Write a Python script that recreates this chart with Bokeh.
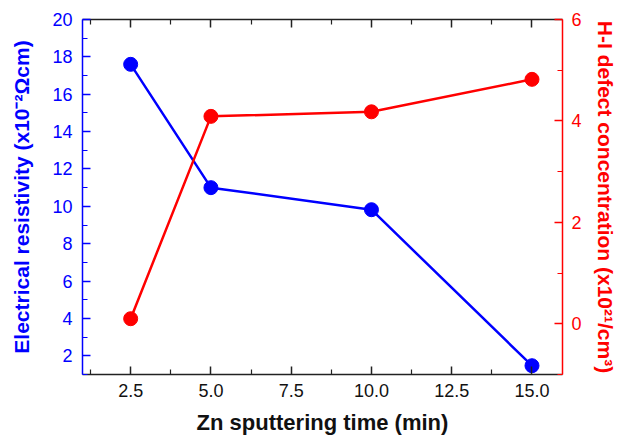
from bokeh.plotting import figure
from bokeh.models import Range1d, LinearAxis, FixedTicker, ColumnDataSource, NumeralTickFormatter
from bokeh.embed import file_html
from bokeh.resources import INLINE

time_min = [2.5, 5.0, 10.0, 15.0]
resistivity = [17.6, 11.0, 9.82, 1.47]
hi_defect = [0.1, 4.09, 4.18, 4.82]

x_ticks = [2.5, 5.0, 7.5, 10.0, 12.5, 15.0]
x_minor = [1.25, 3.75, 6.25, 8.75, 11.25, 13.75]
left_ticks = [2, 4, 6, 8, 10, 12, 14, 16, 18, 20]
left_minor = [1, 3, 5, 7, 9, 11, 13, 15, 17, 19]
right_ticks = [0, 2, 4, 6]
right_minor = [-1, 1, 3, 5]

BLUE = "#0000ff"
RED = "#ff0000"
FONT = "Liberation Sans"

p = figure(width=622, height=438, output_backend="svg", toolbar_location=None,
           x_range=Range1d(1.0, 15.95), y_range=Range1d(1.0, 20.0),
           x_axis_location=None, y_axis_location=None,
           min_border_left=82, min_border_right=60, min_border_top=19, min_border_bottom=64)
p.extra_y_ranges = {"right": Range1d(-1.0, 6.0)}
p.grid.visible = False
p.outline_line_color = None
p.background_fill_color = "white"
p.border_fill_color = "white"


def style(ax, color, label_color):
    ax.axis_line_color = color
    ax.axis_line_width = 1.5
    ax.major_tick_line_color = color
    ax.minor_tick_line_color = color
    ax.major_tick_line_width = 1.5
    ax.minor_tick_line_width = 1.2
    ax.major_tick_in = 8
    ax.major_tick_out = 0
    ax.minor_tick_in = 5
    ax.minor_tick_out = 0
    ax.major_label_text_font = FONT
    ax.major_label_text_font_size = "18px"
    ax.major_label_text_color = label_color
    ax.axis_label_text_font = FONT
    ax.axis_label_text_font_style = "bold"
    ax.axis_label_text_font_size = "21px"
    ax.axis_label_text_color = label_color


bottom = LinearAxis(ticker=FixedTicker(ticks=x_ticks, minor_ticks=x_minor),
                    formatter=NumeralTickFormatter(format="0.0"),
                    axis_label="Zn sputtering time (min)")
style(bottom, "#222222", "#111111")
bottom.axis_label_text_font_size = "22px"
bottom.major_label_standoff = 9
bottom.axis_label_standoff = 10
p.add_layout(bottom, "below")

top = LinearAxis(ticker=FixedTicker(ticks=x_ticks, minor_ticks=x_minor))
style(top, "#222222", "#111111")
top.major_label_overrides = {t: "" for t in x_ticks}
top.major_label_standoff = 0
p.add_layout(top, "above")

left = LinearAxis(ticker=FixedTicker(ticks=left_ticks, minor_ticks=left_minor),
                  axis_label="Electrical resistivity (x10\u207b\u00b2\u03a9cm)")
style(left, BLUE, BLUE)
left.major_label_standoff = 10
left.axis_label_standoff = 16
p.add_layout(left, "left")

right = LinearAxis(y_range_name="right",
                   ticker=FixedTicker(ticks=right_ticks, minor_ticks=right_minor),
                   axis_label="H-I defect concentration (x10\u00b2\u00b9/cm\u00b3)")
style(right, RED, RED)
right.major_label_standoff = 9
right.axis_label_standoff = 9
p.add_layout(right, "right")

src = ColumnDataSource(dict(t=time_min, r=resistivity, h=hi_defect))
p.line("t", "r", source=src, line_color=BLUE, line_width=2.5)
p.scatter("t", "r", source=src, size=14, fill_color=BLUE, line_color=BLUE)
p.line("t", "h", source=src, y_range_name="right", line_color=RED, line_width=2.5)
p.scatter("t", "h", source=src, y_range_name="right", size=14, fill_color=RED, line_color=RED)

open("out.html", "w").write(file_html(p, INLINE))
